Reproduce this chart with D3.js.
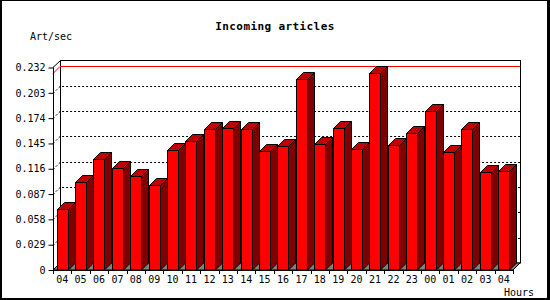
<!DOCTYPE html>
<html>
<head>
<meta charset="utf-8">
<script src="https://cdn.jsdelivr.net/npm/d3@7"></script>
<style>
    body { margin: 0; background: #fff; }
    text { font-family: "DejaVu Sans Mono", monospace; fill: #000; }
</style>
</head>
<body>
<div id="chart"></div>
<script>
// Hours shown on the x axis (one bar per hour, starting and ending at 04)
var hours = ["04", "05", "06", "07", "08", "09", "10", "11", "12", "13", "14", "15", "16",
             "17", "18", "19", "20", "21", "22", "23", "00", "01", "02", "03", "04"];

// Incoming articles per second for each hour
var artPerSec = [0.0695, 0.1012, 0.1268, 0.1165, 0.1073, 0.0970, 0.1371, 0.1475, 0.1612,
                 0.1623, 0.1615, 0.1358, 0.1415, 0.2185, 0.1447, 0.1623, 0.1383, 0.2262,
                 0.1428, 0.1566, 0.1818, 0.1348, 0.1612, 0.1119, 0.1131];

// Tick values on the y axis
var yTicks = [0, 0.029, 0.058, 0.087, 0.116, 0.145, 0.174, 0.203, 0.232];

function init() {
    var w = 550;
    var h = 300;
    var depth = 7;       // 3D offset of the back plane
    var left = 53, right = 513, bottom = 270, top = 67.5;

    var svg = d3.select("#chart")
        .append("svg")
        .attr("width", w)
        .attr("height", h);

    // black frame round the image
    svg.append("rect").attr("width", w).attr("height", h).attr("fill", "#000");
    svg.append("rect").attr("x", 2).attr("y", 1).attr("width", 545).attr("height", 297).attr("fill", "#fff");

    var xScale = d3.scaleBand()
        .domain(d3.range(hours.length))
        .range([left, right])
        .padding(0);
    var bw = xScale.bandwidth();

    var yScale = d3.scaleLinear()
        .domain([0, yTicks[yTicks.length - 1]])
        .range([bottom, top]);

    // back plane
    svg.append("rect")
        .attr("x", left + depth + 0.5)
        .attr("y", top - depth)
        .attr("width", right - left)
        .attr("height", bottom - top)
        .attr("fill", "#fff")
        .attr("stroke", "#000");

    // dotted grid lines, slanting from front axis to back plane
    var grid = yTicks.slice(1, yTicks.length - 1);
    svg.selectAll(".grid")
        .data(grid)
        .enter()
        .append("path")
        .attr("class", "grid")
        .attr("d", function(d) {
            var y = Math.round(yScale(d)) + 0.5;
            return "M" + left + "," + y + "L" + (left + depth) + "," + (y - depth) +
                   "H" + (right + depth);
        })
        .attr("fill", "none")
        .attr("stroke", "#000")
        .attr("stroke-dasharray", "2,2");

    // red line at the maximum value
    var yMax = Math.round(yScale(d3.max(artPerSec))) + 0.5;
    svg.append("path")
        .attr("d", "M" + left + "," + yMax + "L" + (left + depth) + "," + (yMax - depth) +
                   "H" + (right + depth))
        .attr("fill", "none")
        .attr("stroke", "#ff0000");

    // top slant from front axis to back plane
    svg.append("line")
        .attr("x1", left).attr("y1", top)
        .attr("x2", left + depth + 0.5).attr("y2", top - depth)
        .attr("stroke", "#000");

    // gray floor
    svg.append("path")
        .attr("d", "M" + left + "," + bottom + "H" + right + "L" + (right + depth) + "," + (bottom - depth) +
                   "H" + (left + depth) + "Z")
        .attr("fill", "#808080")
        .attr("stroke", "#000");

    // 3D bars: side, top and front faces
    var bars = svg.selectAll(".bar")
        .data(artPerSec)
        .enter()
        .append("g")
        .attr("class", "bar")
        .attr("stroke", "#000")
        .attr("stroke-linejoin", "round");

    var bx = function(i) { return Math.round(xScale(i) + bw * 0.2) + 0.5; };
    var bwidth = Math.round(bw * 0.58);

    bars.append("path")
        .attr("fill", "#800000")
        .attr("d", function(d, i) {
            var x = bx(i) + bwidth, y = Math.round(yScale(d)) + 0.5;
            return "M" + x + "," + y + "L" + (x + depth) + "," + (y - depth) +
                   "V" + (bottom - depth) + "L" + x + "," + bottom + "Z";
        });

    bars.append("path")
        .attr("fill", "#c00000")
        .attr("d", function(d, i) {
            var x = bx(i), y = Math.round(yScale(d)) + 0.5;
            return "M" + x + "," + y + "L" + (x + depth) + "," + (y - depth) +
                   "H" + (x + bwidth + depth) + "L" + (x + bwidth) + "," + y + "Z";
        });

    bars.append("rect")
        .attr("fill", "#ff0000")
        .attr("x", function(d, i) { return bx(i); })
        .attr("y", function(d) { return Math.round(yScale(d)) + 0.5; })
        .attr("width", bwidth)
        .attr("height", function(d) { return bottom - Math.round(yScale(d)) - 0.5; });

    // y axis
    var yAxis = d3.axisLeft(yScale)
        .tickValues(yTicks)
        .tickSize(5)
        .tickPadding(3)
        .tickFormat(function(d) { return d === 0 ? "0" : d3.format(".3f")(d); });

    svg.append("g")
        .attr("transform", "translate(" + (left + 0.5) + ",0)")
        .call(yAxis)
        .call(function(g) {
            g.select(".domain").attr("d", "M0," + top + "V" + bottom);
            g.selectAll("text").style("font-family", "DejaVu Sans Mono").style("font-size", "10px").attr("fill", "#000");
        });

    // x axis: ticks on band edges, labels in band centres
    svg.append("line")
        .attr("x1", left).attr("x2", right)
        .attr("y1", bottom + 0.5).attr("y2", bottom + 0.5)
        .attr("stroke", "#000");

    svg.selectAll(".xtick")
        .data(d3.range(hours.length + 1))
        .enter()
        .append("line")
        .attr("class", "xtick")
        .attr("x1", function(i) { return Math.round(left + i * bw) + 0.5; })
        .attr("x2", function(i) { return Math.round(left + i * bw) + 0.5; })
        .attr("y1", bottom)
        .attr("y2", bottom + 4)
        .attr("stroke", "#000");

    svg.selectAll(".xlabel")
        .data(hours)
        .enter()
        .append("text")
        .attr("class", "xlabel")
        .attr("x", function(d, i) { return xScale(i) + bw / 2; })
        .attr("y", 283)
        .attr("text-anchor", "middle")
        .style("font-size", "10px")
        .text(function(d) { return d; });

    // titles
    svg.append("text")
        .attr("x", 275)
        .attr("y", 30)
        .attr("text-anchor", "middle")
        .style("font-size", "11px")
        .style("font-weight", "bold")
        .style("letter-spacing", "0.4px")
        .text("Incoming articles");

    svg.append("text")
        .attr("x", 30)
        .attr("y", 40)
        .style("font-size", "10px")
        .text("Art/sec");

    svg.append("text")
        .attr("x", 504)
        .attr("y", 296)
        .style("font-size", "10px")
        .text("Hours");
}

window.onload = init;
</script>
</body>
</html>
